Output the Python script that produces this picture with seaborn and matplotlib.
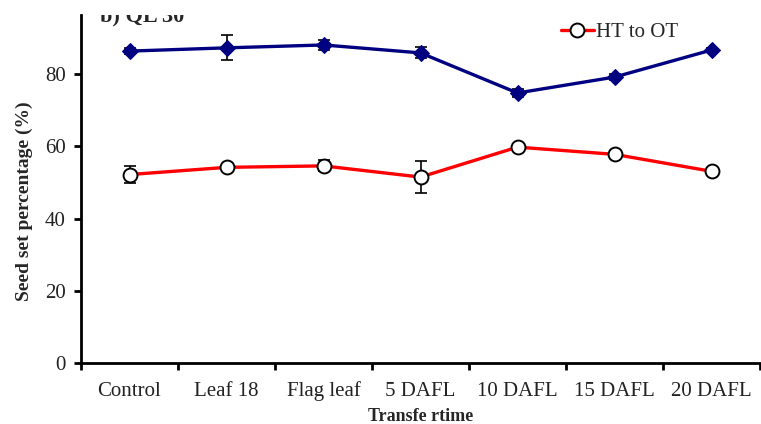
import matplotlib
matplotlib.use("Agg")
from matplotlib import pyplot as plt
import seaborn as sns
import pandas as pd
import numpy as np

categories = ["Control", "Leaf 18", "Flag leaf", "5 DAFL", "10 DAFL", "15 DAFL", "20 DAFL"]
ot_values = [86.4, 87.3, 88.1, 85.9, 74.8, 79.2, 86.7]
ot_err = [0.8, 3.5, 1.5, 1.5, 1.0, 0.8, 0.6]
ht_values = [52.2, 54.2, 54.6, 51.5, 59.8, 57.8, 53.1]
ht_err = [2.3, 0.8, 1.5, 4.5, 0.8, 0.8, 1.0]

sns.set_style("white")
plt.rcParams['font.family'] = ['Liberation Serif', 'DejaVu Serif']

df = pd.DataFrame({
    "pos": list(range(len(categories))) * 2,
    "value": ot_values + ht_values,
    "series": ["OT"] * len(categories) + ["HT to OT"] * len(categories),
})

fig = plt.figure(figsize=(7.61, 4.24), dpi=100)
ax = fig.add_axes([81 / 761, 1 - 363 / 424, 679 / 761, 348 / 424])

x = np.arange(len(categories))
ax.errorbar(x, ot_values, yerr=ot_err, fmt="none", ecolor="black", elinewidth=1.2,
            capsize=4, capthick=1.2, zorder=2)
ax.errorbar(x, ht_values, yerr=ht_err, fmt="none", ecolor="black", elinewidth=1.2,
            capsize=4, capthick=1.2, zorder=2)

sns.lineplot(data=df[df.series == "OT"], x="pos", y="value", ax=ax, color="#000080",
             linewidth=2.4, marker="D", markersize=8, markerfacecolor="#000080",
             markeredgecolor="#000080", zorder=3, legend=False)
sns.lineplot(data=df[df.series == "HT to OT"], x="pos", y="value", ax=ax, color="red",
             linewidth=2.4, marker="o", markersize=10, markerfacecolor="white",
             markeredgecolor="black", markeredgewidth=1.4, zorder=4, label="HT to OT")

ax.set_xlim(-0.5, 6.5)
ax.set_ylim(0, 96.4)
ax.set_yticks([0, 20, 40, 60, 80])
ax.set_xticks(x)
ax.set_xticklabels(categories, va="baseline")
ax.set_xticks(np.arange(-0.5, 7, 1), minor=True)
ax.tick_params(axis="x", which="major", bottom=False, length=0, labelsize=15, pad=24)
ax.tick_params(axis="x", which="minor", bottom=True, length=5, width=2, direction="out", color="black")
ax.tick_params(axis="y", left=True, length=5, width=2, direction="out", color="black", labelsize=15, pad=6)
for lab in ax.get_xticklabels() + ax.get_yticklabels():
    lab.set_color("#222222")

sns.despine(ax=ax)
for s in ["left", "bottom"]:
    ax.spines[s].set_linewidth(2)
    ax.spines[s].set_color("black")

ax.set_xlabel("Transfe rtime", fontsize=13, fontweight="bold")
ax.xaxis.set_label_coords(0.5, -0.128)
ax.set_ylabel("Seed set percentage (%)", fontsize=14, fontweight="bold")
ax.yaxis.set_label_coords(-0.071, 0.466)

ax.text(0.028, 0.98, "b) QL 30", transform=ax.transAxes, fontsize=16, fontweight="bold",
        va="baseline", ha="left", clip_on=True)

leg = ax.legend(loc="upper left", bbox_to_anchor=(0.685, 1.02), frameon=False, fontsize=15,
                handlelength=1.6, handletextpad=0.1, borderpad=0.2)

fig.savefig("out.png", dpi=100)
